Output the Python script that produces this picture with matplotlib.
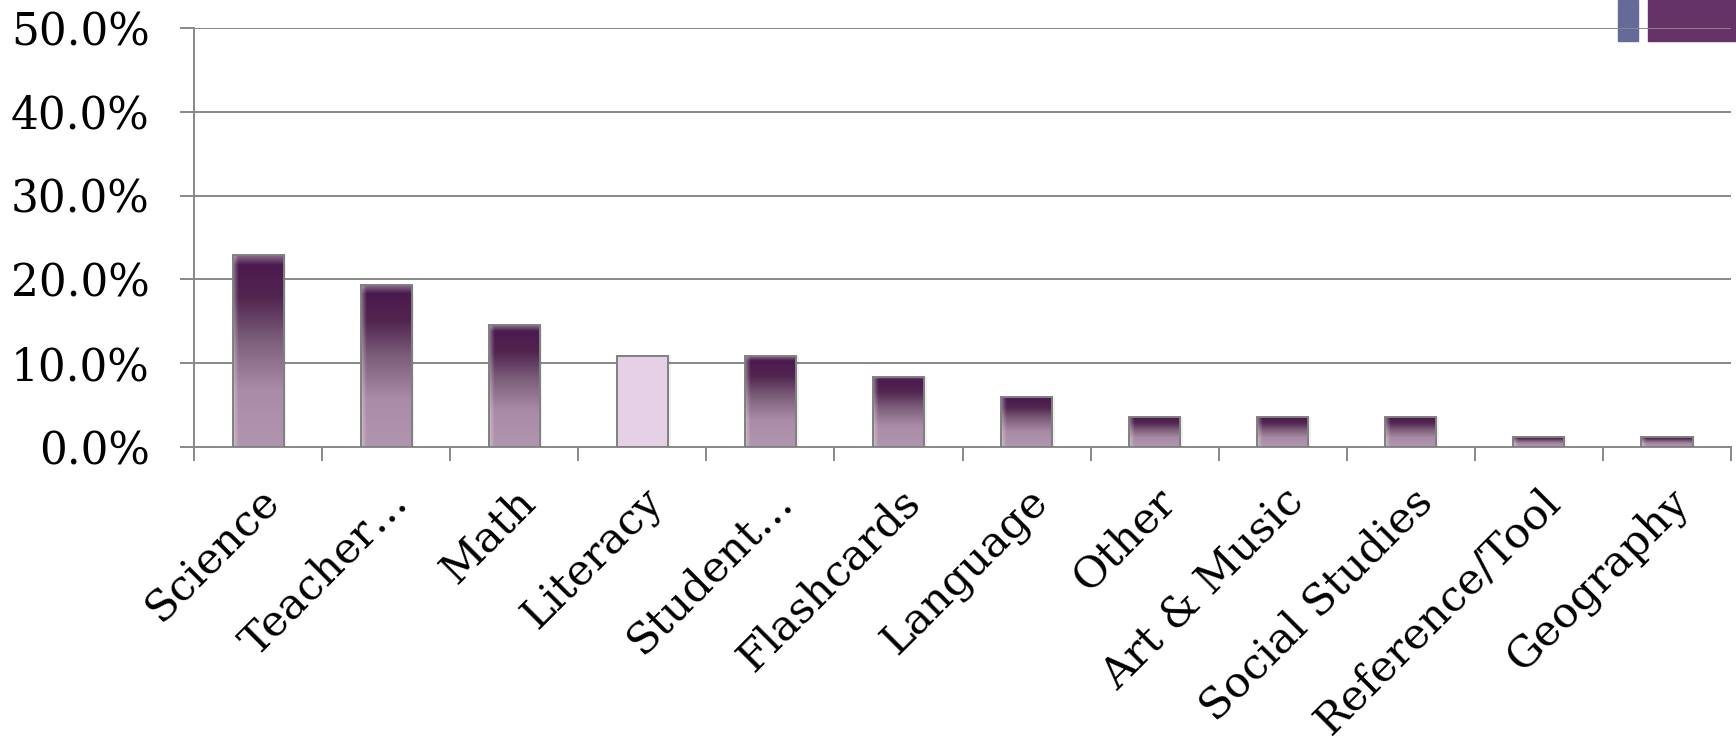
import numpy as np
import matplotlib
matplotlib.use("Agg")
import matplotlib.pyplot as plt
from matplotlib.patches import Rectangle
from matplotlib.colors import to_rgb
from matplotlib.ticker import PercentFormatter, FixedLocator
from matplotlib.transforms import ScaledTranslation

# Data
categories = ["Science", "Teacher…", "Math", "Literacy", "Student…", "Flashcards",
              "Language", "Other", "Art & Music", "Social Studies", "Reference/Tool",
              "Geography"]
values = [0.229, 0.193, 0.145, 0.108, 0.108, 0.084, 0.060, 0.036, 0.036, 0.036, 0.012, 0.012]

highlight = "Literacy"
plt.rcParams['font.family'] = ['DejaVu Serif']

fig = plt.figure(figsize=(17.36, 7.52), dpi=100)
ax = fig.add_axes([0.1118, 0.4056, 0.9971 - 0.1118, 0.9628 - 0.4056])
ax.patch.set_visible(False)

# decorative blocks top right
fig.patches.append(Rectangle((1618/1736, 1 - 41/752), 20/1736, 41/752,
                             transform=fig.transFigure, color="#666A99", zorder=-1))
fig.patches.append(Rectangle((1648/1736, 1 - 41/752), 88/1736, 41/752,
                             transform=fig.transFigure, color="#663366", zorder=-1))

# gradient image for bars
stops = [(0.0, "#B295B1"), (0.30, "#A88BA6"), (0.56, "#7C5E7B"),
         (0.78, "#52254F"), (0.95, "#4B1A4F"), (1.0, "#8A6A8A")]
t = np.linspace(0, 1, 200)
grad = np.zeros((200, 40, 3))
for c in range(3):
    col = np.interp(t, [s[0] for s in stops], [to_rgb(s[1])[c] for s in stops])
    grad[:, :, c] = col[:, None]
u = np.linspace(0, 1, 40)
edge = np.clip(1 - u / 0.1, 0, 1)[None, :, None] * 0.35
grad = grad * (1 - edge) + edge
grad = grad[::-1]

x = np.arange(len(categories))
w = 0.4
bars = ax.bar(x, values, width=w, facecolor="none", edgecolor="#808080",
              linewidth=1.4, zorder=3)
for xi, b, cat in zip(x, bars, categories):
    h = b.get_height()
    # soft shadow
    ax.add_patch(Rectangle((xi - w/2 + 0.02, 0), w, h, facecolor="#000000",
                           alpha=0.06, edgecolor="none", zorder=1.5))
    if cat == highlight:
        ax.add_patch(Rectangle((xi - w/2, 0), w, h, facecolor="#E6D0E6",
                               edgecolor="none", zorder=2))
    else:
        im = ax.imshow(grad, extent=[xi - w/2, xi + w/2, 0, h], aspect="auto",
                       interpolation="bilinear", zorder=2)
        im.set_clip_path(b)

ax.set_xlim(-0.5, len(categories) - 0.5)
ax.set_ylim(0, 0.5)
ax.set_yticks(np.arange(0, 0.51, 0.1))
ax.yaxis.set_major_formatter(PercentFormatter(1.0, decimals=1))
ax.grid(axis="y", color="#888888", linewidth=1.4, zorder=1)
ax.set_axisbelow(True)

ax.set_xticks(x)
ax.set_xticklabels(categories, rotation=45, ha="right", va="top",
                   rotation_mode="anchor", fontsize=31)
shift = ScaledTranslation(-9/100, 0, fig.dpi_scale_trans)
for lab in ax.get_xticklabels():
    lab.set_transform(lab.get_transform() + shift)
ax.xaxis.set_minor_locator(FixedLocator(np.arange(-0.5, len(categories), 1)))
ax.tick_params(axis="x", which="major", length=0, pad=24)
ax.tick_params(axis="x", which="minor", length=10, width=1.4, color="#888888")
ax.tick_params(axis="y", length=10, width=1.4, color="#888888", labelsize=31.5, pad=22)

for s in ["top", "right"]:
    ax.spines[s].set_visible(False)
for s in ["left", "bottom"]:
    ax.spines[s].set_color("#888888")
    ax.spines[s].set_linewidth(1.4)

fig.savefig("out.png", dpi=100)
